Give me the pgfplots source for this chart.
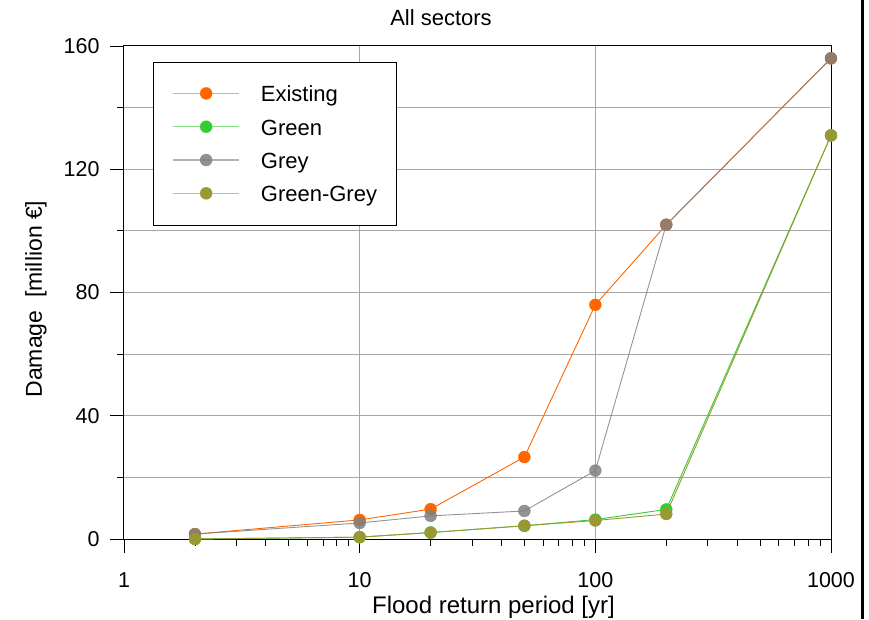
\documentclass[border=0pt]{standalone}
\usepackage{fontspec}
\setmainfont{Liberation Sans}
\usepackage{pgfplots}
\pgfplotsset{compat=1.18}

\definecolor{cExist}{HTML}{FF6600}
\definecolor{cGreen}{HTML}{33CC33}
\definecolor{cGrey}{HTML}{808080}
\definecolor{cGG}{HTML}{999933}
\definecolor{gridgray}{HTML}{A6A6A6}

\begin{document}
\begin{tikzpicture}
\useasboundingbox (-124pt,-80pt) rectangle (745pt,539pt);
\begin{axis}[
  at={(0pt,0pt)}, anchor=south west,
  scale only axis, width=707pt, height=493pt,
  xmode=log, xmin=1, xmax=1000, ymin=0, ymax=160,
  xtick={1,10,100,1000}, xticklabels={1,10,100,1000},
  minor xtick={2,3,4,5,6,7,8,9,20,30,40,50,60,70,80,90,200,300,400,500,600,700,800,900},
  ytick={0,40,80,120,160}, minor ytick={20,60,100,140},
  xmajorgrids, ymajorgrids, yminorgrids,
  grid style={draw=gridgray, line width=1pt},
  minor grid style={draw=gridgray, line width=1pt},
  tick align=outside, xtick pos=bottom, ytick pos=left,
  major tick length=14pt, minor tick length=7pt,
  every tick/.style={black, line width=0.8pt},
  axis line style={black, line width=1pt},
  tick label style={font=\fontsize{21.5}{24}\selectfont},
  yticklabel style={xshift=-7pt},
  xticklabel style={yshift=-16pt},
  /pgf/number format/assume math mode=true,
  xlabel={Flood return period [yr]},
  ylabel={Damage\ \ [million €]},
  xlabel style={font=\fontsize{24}{28}\selectfont, at={(axis description cs:0.5226,-0.1501)}, anchor=base},
  ylabel style={font=\fontsize{23}{27}\selectfont, at={(axis description cs:-0.116,0.4868)}, anchor=base},
  legend cell align=left,
  legend image code/.code={
    \draw[#1, line width=1.5pt, opacity=0.6, mark=none] (0pt,0.5pt) -- (66pt,0.5pt);
    \draw[#1, mark repeat=1] plot coordinates {(33pt,0.5pt)};
  },
  legend style={
    at={(axis description cs:0.041,0.9675)}, anchor=north west,
    draw=black, line width=0.8pt, fill=white,
    inner xsep=19pt, inner ysep=20.5pt,
    row sep=11.3pt,
    nodes={inner sep=0pt, text height=19pt, text depth=3pt, font=\fontsize{22}{26}\selectfont},
    /tikz/every odd column/.append style={column sep=21pt},
  },
  every axis plot/.append style={line width=0.9pt, mark=*, mark size=6pt},
]
\addplot[color=cExist, mark options={fill=cExist, draw=cExist, line width=0.3pt}]
  coordinates {(2,1.6) (10,6.2) (20,9.7) (50,26.6) (100,76) (200,102) (1000,156)};
\addlegendentry{Existing}
\addplot[color=cGreen, mark options={fill=cGreen, draw=cGreen, line width=0.3pt}]
  coordinates {(2,0) (10,0.6) (20,2.1) (50,4.3) (100,6.3) (200,9.6) (1000,131)};
\addlegendentry{Green}
\addplot[color=cGrey, mark options={fill=cGrey, draw=cGrey, line width=0.3pt}, opacity=0.85]
  coordinates {(2,1.6) (10,5.2) (20,7.5) (50,9.1) (100,22.2) (200,102) (1000,156)};
\addlegendentry{Grey}
\addplot[color=cGG, mark options={fill=cGG, draw=cGG, line width=0.3pt}]
  coordinates {(2,0) (10,0.6) (20,2.1) (50,4.3) (100,6.0) (200,8.1) (1000,131)};
\addlegendentry{Green-Grey}
\end{axis}
\node[font=\fontsize{22}{26}\selectfont] at (317pt,521.5pt) {All sectors};
\draw[black, line width=3pt] (738pt,-80pt) -- (738pt,539pt);
\end{tikzpicture}
\end{document}
